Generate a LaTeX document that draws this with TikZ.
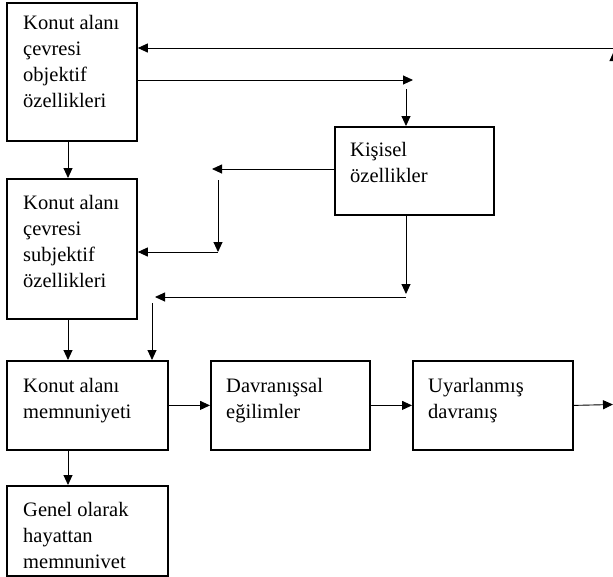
\documentclass[tikz,border=0pt]{standalone}
\usepackage{fontspec}
\setmainfont{Liberation Serif}
\usetikzlibrary{arrows.meta}
\tikzset{
	box/.style={draw, line width=1.8pt, anchor=north west, inner sep=0pt},
	txt/.style={anchor=north west, inner sep=0pt, align=left, font=\fontsize{20.5}{26}\selectfont},
	arr/.style={-{Triangle[length=10pt, width=9pt]}, line width=0.9pt}
}

\begin{document}
\begin{tikzpicture}[x=1pt, y=-1pt]
	\useasboundingbox (0,0) rectangle (613,576);
	\node[box, minimum width=130pt, minimum height=138pt] (obj) at (6,2) {};
	\node[box, minimum width=130pt, minimum height=140pt] (subj) at (6,178) {};
	\node[box, minimum width=159pt, minimum height=88pt] (kis) at (334,126) {};
	\node[box, minimum width=161pt, minimum height=89pt] (mem) at (6,360) {};
	\node[box, minimum width=159pt, minimum height=89pt] (davr) at (210,360) {};
	\node[box, minimum width=160pt, minimum height=89pt] (uyar) at (412,360) {};
	\node[box, minimum width=161pt, minimum height=90pt] (gen) at (6,485) {};

	\node[txt] (objT) at ([shift={(17,13)}]obj.north west) {Konut alanı\\çevresi\\objektif\\özellikleri};
	\node[txt] (subjT) at ([shift={(17,17)}]subj.north west) {Konut alanı\\çevresi\\subjektif\\özellikleri};
	\node[txt] (kisT) at ([shift={(16,16)}]kis.north west) {Kişisel\\özellikler};
	\node[txt] (memT) at ([shift={(17,18)}]mem.north west) {Konut alanı\\memnuniyeti};
	\node[txt] (davrT) at ([shift={(16,18)}]davr.north west) {Davranışsal\\eğilimler};
	\node[txt] (uyarT) at ([shift={(16,18)}]uyar.north west) {Uyarlanmış\\davranış};
	\node[txt] (genT) at ([shift={(17,17)}]gen.north west) {Genel olarak\\hayattan\\memnunivet};

	\coordinate (fbT) at (614,51);
	\coordinate (fbB) at (614,75);
	\coordinate (fbR) at (616,48);
	\draw[arr] (fbB) -- (fbT);
	\draw[arr] (fbR) -- (fbR -| obj.east);

	\coordinate (kisIn) at (413,80);
	\coordinate (kisTop) at (406,89);
	\draw[arr] (kisIn -| obj.east) -- (kisIn);
	\draw[arr] (kisTop) -- (kisTop |- kis.north);

	\coordinate (subjIn) at (212,169);
	\coordinate (subjV) at (218,180);
	\coordinate (subjH) at (218,252);
	\draw[arr] (subjIn -| kis.west) -- (subjIn);
	\draw[arr] (subjV) -- (subjH);
	\draw[arr] (subjH) -- (subjH -| subj.east);

	\coordinate (memIn) at (406,294);
	\coordinate (memH) at (406,297);
	\coordinate (memHend) at (155,297);
	\coordinate (memV) at (152,303);
	\draw[arr] (memIn |- kis.south) -- (memIn);
	\draw[arr] (memH) -- (memHend);
	\draw[arr] (memV) -- (memV |- mem.north);

	\coordinate (col) at (68,0);
	\draw[arr] (col |- obj.south) -- (col |- subj.north);
	\draw[arr] (col |- subj.south) -- (col |- mem.north);
	\draw[arr] (col |- mem.south) -- (col |- gen.north);

	\coordinate (out) at (613,404.5);
	\draw[arr] (mem.east) -- (davr.west);
	\draw[arr] (davr.east) -- (uyar.west);
	\draw[arr] (uyar.east) -- (out);
\end{tikzpicture}
\end{document}
